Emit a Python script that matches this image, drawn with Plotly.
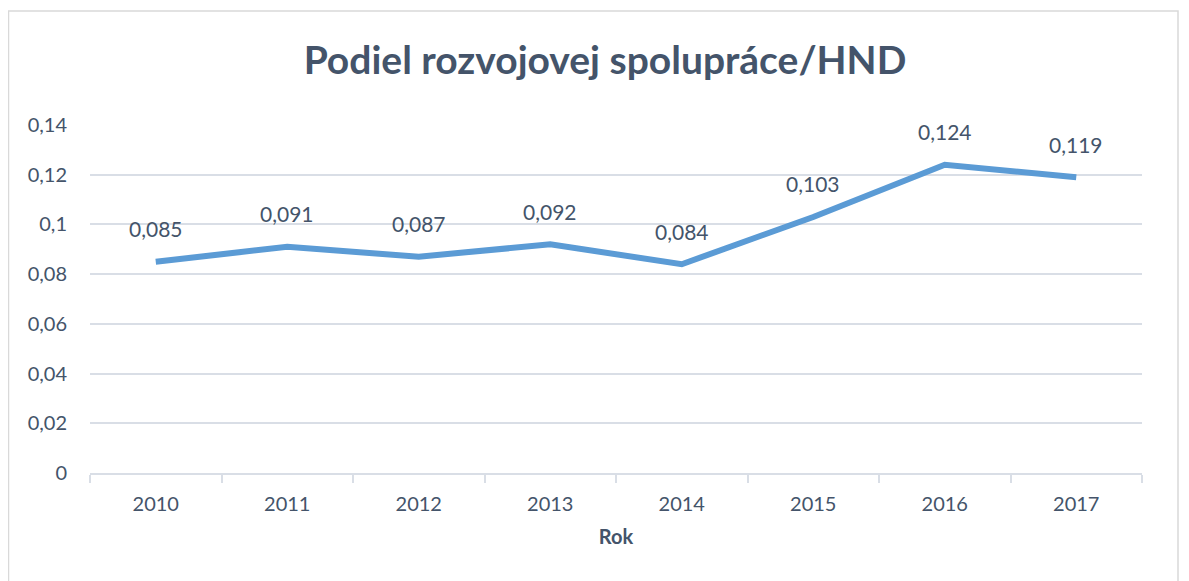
import plotly.graph_objects as go

years = ["2010", "2011", "2012", "2013", "2014", "2015", "2016", "2017"]
values = [0.085, 0.091, 0.087, 0.092, 0.084, 0.103, 0.124, 0.119]
y_ticks = [0, 0.02, 0.04, 0.06, 0.08, 0.1, 0.12, 0.14]
y_ticktext = ["0", "0,02", "0,04", "0,06", "0,08", "0,1", "0,12", "0,14"]

TXT = "#44546A"
GRID = "#D9DEE6"
FONT = "Lato"

W, H = 1181, 573
L, R, T, B = 82, 47, 117, 108
PW, PH = W - L - R, H - T - B

fig = go.Figure()
fig.add_trace(go.Scatter(
    x=years, y=values, mode="lines",
    line=dict(color="#5B9BD5", width=6),
    hoverinfo="skip",
))

for i, v in enumerate(values):
    fig.add_annotation(
        x=i, y=v, text=f"{v:.3f}".replace(".", ","), showarrow=False,
        yshift=33, font=dict(family=FONT, size=21, color=TXT),
    )

fig.update_layout(
    width=W, height=H,
    margin=dict(l=L, r=R, t=T, b=B),
    paper_bgcolor="white", plot_bgcolor="white",
    showlegend=False,
    title=dict(
        text="<b>Podiel rozvojovej spolupráce/HND</b>",
        x=0.5055, xanchor="center", y=0.909, yanchor="middle",
        font=dict(family=FONT, size=39, color=TXT),
    ),
    font=dict(family=FONT, color=TXT),
)

fig.update_xaxes(
    type="category", categoryorder="array", categoryarray=years,
    range=[-0.5, len(years) - 0.5], autorange=False,
    tickson="boundaries", ticks="outside", ticklen=8,
    tickcolor=GRID, tickwidth=2, showline=True, linecolor=GRID, linewidth=2,
    showgrid=False, tickangle=0, ticklabelstandoff=12,
    tickfont=dict(family=FONT, size=20, color=TXT),
    title=dict(text="<b>Rok</b>", font=dict(family=FONT, size=20, color=TXT), standoff=16),
)
fig.update_yaxes(
    range=[0, 0.14], autorange=False, tickvals=y_ticks, ticktext=y_ticktext,
    showgrid=True, gridcolor=GRID, gridwidth=2, zeroline=False,
    showline=False, ticks="", ticklabelstandoff=22,
    tickfont=dict(family=FONT, size=20, color=TXT),
)

# chart frame
fig.add_shape(
    type="rect", xref="paper", yref="paper",
    x0=(0.5 - L) / PW, x1=(1170 - L) / PW,
    y0=-0.4, y1=(PH + T - 3) / PH,
    line=dict(color="#D9D9D9", width=1.5), fillcolor="rgba(0,0,0,0)", layer="below",
)

fig.write_html("out.html")
